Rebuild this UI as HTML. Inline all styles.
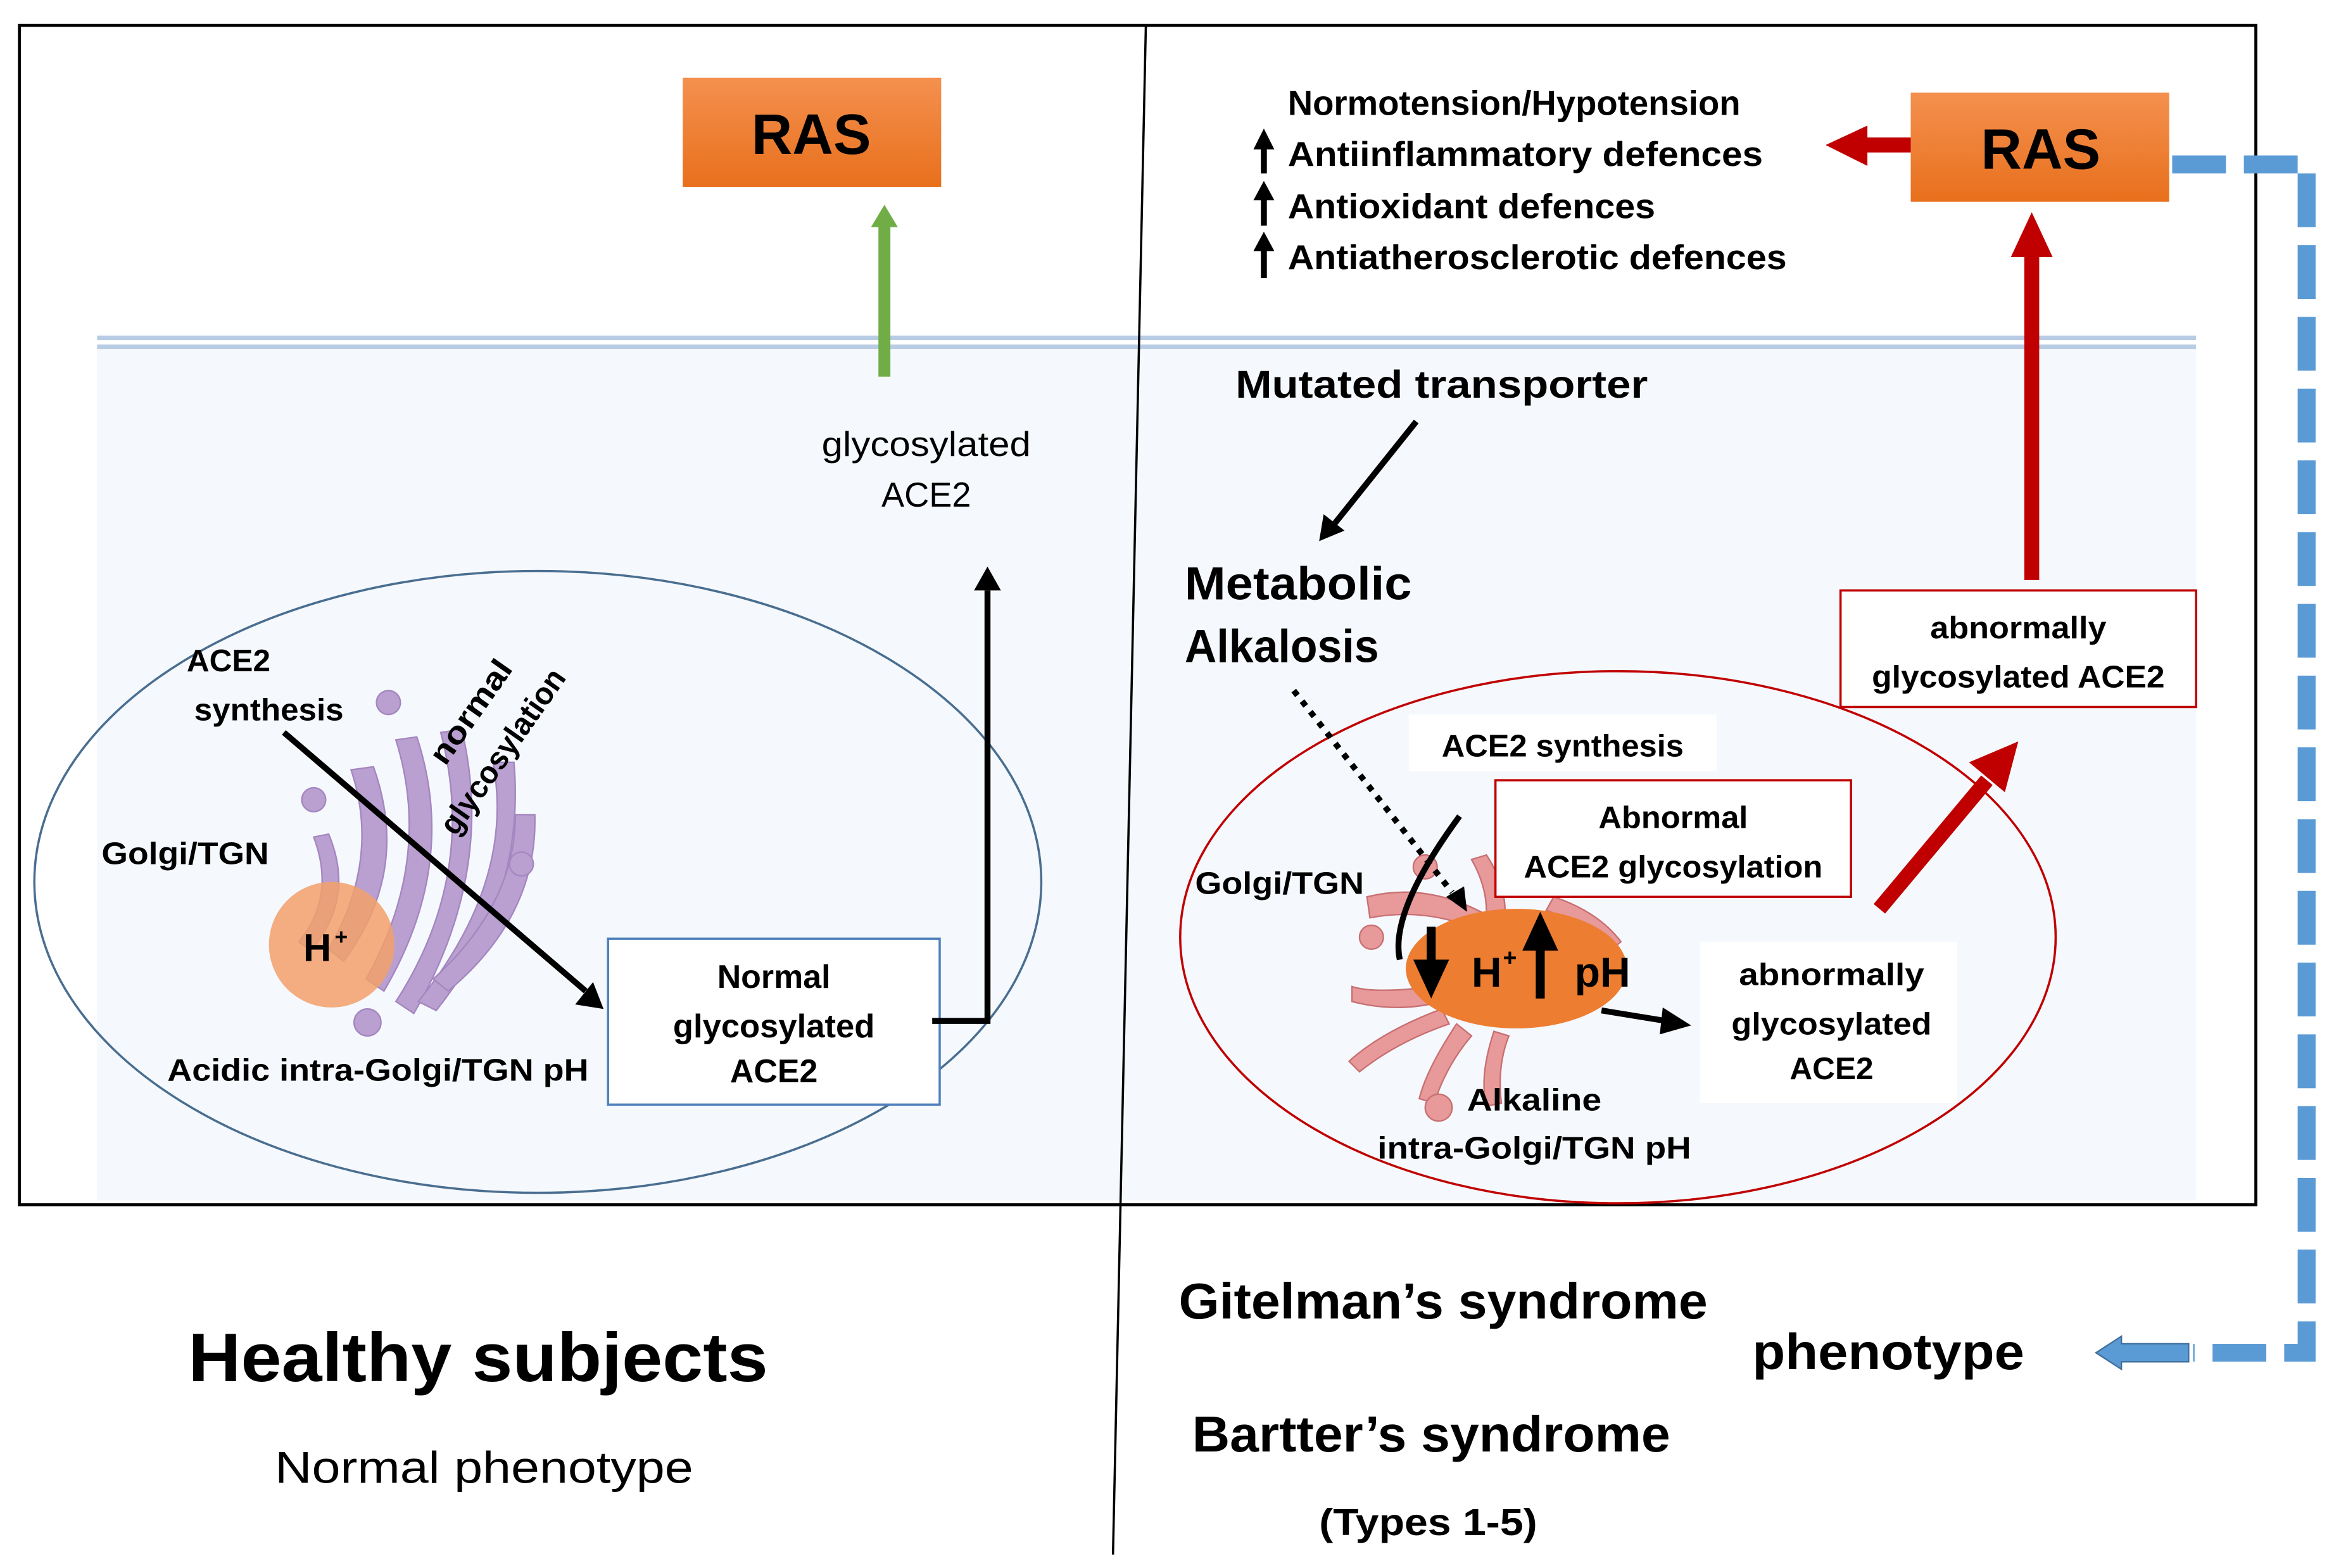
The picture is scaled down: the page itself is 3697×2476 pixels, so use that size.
<!DOCTYPE html>
<html><head><meta charset="utf-8"><style>
html,body{margin:0;padding:0;background:#fff;}
svg{display:block;}
text{font-family:"Liberation Sans",sans-serif;fill:#000;}
.b{font-weight:bold;}
</style></head><body>
<svg width="3697" height="2476" viewBox="0 0 1567 1049" preserveAspectRatio="none" xmlns="http://www.w3.org/2000/svg">
<defs>
<linearGradient id="og" x1="0" y1="0" x2="0" y2="1"><stop offset="0" stop-color="#f4904f"/><stop offset="1" stop-color="#e8701c"/></linearGradient>
</defs>
<rect x="0" y="0" width="1567" height="1049" fill="#fff"/>
<rect x="65" y="233" width="1405" height="570" fill="#f5f9fd"/>
<line x1="65" y1="226" x2="1470" y2="226" stroke="#b8cce4" stroke-width="3"/>
<line x1="65" y1="232" x2="1470" y2="232" stroke="#b8cce4" stroke-width="3"/>
<rect x="13" y="17" width="1497" height="789" fill="none" stroke="#000" stroke-width="2"/>
<line x1="767" y1="17" x2="745" y2="1040" stroke="#000" stroke-width="1.5"/>

<!-- LEFT -->
<rect x="457" y="52" width="173" height="73" fill="url(#og)"/>
<text x="543" y="103" class="b" font-size="38" text-anchor="middle" textLength="80" lengthAdjust="spacingAndGlyphs">RAS</text>
<line x1="592" y1="252" x2="592" y2="150" stroke="#70ad47" stroke-width="8"/>
<path d="M583,152 L592,137 L601,152 z" fill="#70ad47"/>
<text x="620" y="305" font-size="23" text-anchor="middle" textLength="140" lengthAdjust="spacingAndGlyphs">glycosylated</text>
<text x="620" y="339" font-size="23" text-anchor="middle" textLength="60" lengthAdjust="spacingAndGlyphs">ACE2</text>
<ellipse cx="360" cy="590" rx="337" ry="208" fill="none" stroke="#4a6e90" stroke-width="1.5"/>
<g fill="#b9a0d0" stroke="#a486c0" stroke-width="1">
<path d="M235,515 q20,60 -15,120 l10,8 q45,-60 20,-130 z"/>
<path d="M265,495 q25,80 -20,160 l12,8 q50,-85 22,-170 z"/>
<path d="M295,490 q25,95 -30,180 l12,8 q55,-95 32,-190 z"/>
<path d="M330,510 q15,80 -50,160 l12,6 q60,-75 52,-166 z"/>
<path d="M345,545 q0,60 -55,110 l10,8 q60,-50 58,-118 z"/>
<path d="M210,560 q15,40 -10,70 l8,6 q30,-35 12,-78 z"/>
<circle cx="260" cy="470" r="8"/><circle cx="210" cy="535" r="8"/><circle cx="349" cy="578" r="8"/><circle cx="246" cy="684" r="9"/>
</g>
<circle cx="222" cy="632" r="42" fill="#f2a06a" fill-opacity="0.85"/>
<text x="203" y="643" class="b" font-size="26">H</text><text x="224" y="632" class="b" font-size="15">+</text>
<text x="153" y="449" class="b" font-size="21" text-anchor="middle">ACE2</text>
<text x="180" y="482" class="b" font-size="21" text-anchor="middle" textLength="100" lengthAdjust="spacingAndGlyphs">synthesis</text>
<text x="68" y="578" class="b" font-size="21" textLength="112" lengthAdjust="spacingAndGlyphs">Golgi/TGN</text>
<text transform="translate(298,513) rotate(-55)" class="b" font-size="21" textLength="80" lengthAdjust="spacingAndGlyphs">normal</text>
<text transform="translate(305,560) rotate(-55)" class="b" font-size="21" textLength="130" lengthAdjust="spacingAndGlyphs">glycosylation</text>
<line x1="190" y1="490" x2="392" y2="663" stroke="#000" stroke-width="4"/>
<path d="M385,672 L404,675 L397,657 z" fill="#000"/>
<text x="112" y="723" class="b" font-size="21" textLength="282" lengthAdjust="spacingAndGlyphs">Acidic intra-Golgi/TGN pH</text>
<rect x="407" y="628" width="222" height="111" fill="#fff" stroke="#4f81bd" stroke-width="1.5"/>
<text x="518" y="661" class="b" font-size="22" text-anchor="middle">Normal</text>
<text x="518" y="694" class="b" font-size="22" text-anchor="middle" textLength="135" lengthAdjust="spacingAndGlyphs">glycosylated</text>
<text x="518" y="724" class="b" font-size="22" text-anchor="middle">ACE2</text>
<polyline points="624,683 661,683 661,395" fill="none" stroke="#000" stroke-width="4"/>
<path d="M652,395 L661,379 L670,395 z" fill="#000"/>
<text x="320" y="924" class="b" font-size="46" text-anchor="middle" textLength="388" lengthAdjust="spacingAndGlyphs">Healthy subjects</text>
<text x="324" y="992" font-size="30" text-anchor="middle" textLength="280" lengthAdjust="spacingAndGlyphs">Normal phenotype</text>

<!-- RIGHT -->
<rect x="1279" y="62" width="173" height="73" fill="url(#og)"/>
<text x="1366" y="113" class="b" font-size="38" text-anchor="middle" textLength="80" lengthAdjust="spacingAndGlyphs">RAS</text>
<line x1="1279" y1="97" x2="1248" y2="97" stroke="#c00000" stroke-width="10"/>
<path d="M1250,84 L1222,97 L1250,111 z" fill="#c00000"/>
<text x="862" y="77" class="b" font-size="23" textLength="303" lengthAdjust="spacingAndGlyphs">Normotension/Hypotension</text>
<text x="862" y="111" class="b" font-size="23" textLength="318" lengthAdjust="spacingAndGlyphs">Antiinflammatory defences</text>
<text x="862" y="146" class="b" font-size="23" textLength="246" lengthAdjust="spacingAndGlyphs">Antioxidant defences</text>
<text x="862" y="180" class="b" font-size="23" textLength="334" lengthAdjust="spacingAndGlyphs">Antiatherosclerotic defences</text>
<g fill="#000">
<rect x="844" y="98" width="4" height="18"/><path d="M839,100 L846,86 L853,100 z"/>
<rect x="844" y="132" width="4" height="19"/><path d="M839,134 L846,121 L853,134 z"/>
<rect x="844" y="166" width="4" height="20"/><path d="M839,168 L846,155 L853,168 z"/>
</g>
<line x1="1360" y1="388" x2="1360" y2="170" stroke="#c00000" stroke-width="10"/>
<path d="M1346,172 L1360,142 L1374,172 z" fill="#c00000"/>
<polyline points="1454,110 1544,110 1544,905 1468,905" fill="none" stroke="#5b9bd5" stroke-width="12" stroke-dasharray="36,12"/>
<path d="M1465,899 L1420,899 L1420,894 L1403,905 L1420,916 L1420,911 L1465,911 z" fill="#5b9bd5" stroke="#41719c" stroke-width="1"/>
<text x="965" y="266" class="b" font-size="26" text-anchor="middle" textLength="276" lengthAdjust="spacingAndGlyphs">Mutated transporter</text>
<line x1="948" y1="282" x2="892" y2="352" stroke="#000" stroke-width="4"/>
<path d="M883,362 L886,344 L900,355 z" fill="#000"/>
<text x="793" y="401" class="b" font-size="31" textLength="152" lengthAdjust="spacingAndGlyphs">Metabolic</text>
<text x="793" y="443" class="b" font-size="31" textLength="130" lengthAdjust="spacingAndGlyphs">Alkalosis</text>
<ellipse cx="1083" cy="627" rx="293" ry="178" fill="none" stroke="#c00000" stroke-width="1.5"/>
<rect x="1232" y="395" width="238" height="78" fill="#fff" stroke="#c00000" stroke-width="1.5"/>
<text x="1351" y="427" class="b" font-size="21" text-anchor="middle" textLength="118" lengthAdjust="spacingAndGlyphs">abnormally</text>
<text x="1351" y="460" class="b" font-size="21" text-anchor="middle" textLength="196" lengthAdjust="spacingAndGlyphs">glycosylated ACE2</text>
<rect x="943" y="478" width="206" height="38" fill="#fff"/>
<text x="1046" y="506" class="b" font-size="21" text-anchor="middle" textLength="162" lengthAdjust="spacingAndGlyphs">ACE2 synthesis</text>
<g fill="#e8999a" stroke="#c87072" stroke-width="1">
<path d="M915,600 q40,-10 80,12 l-6,10 q-35,-15 -72,-8 z"/>
<path d="M985,575 q20,35 0,70 l10,5 q25,-40 0,-78 z"/>
<path d="M1040,600 q30,10 45,30 l-8,7 q-15,-18 -42,-28 z"/>
<path d="M960,660 q-40,5 -55,0 l0,10 q30,8 60,0 z"/>
<path d="M965,675 q-40,15 -62,35 l7,7 q25,-20 60,-32 z"/>
<path d="M975,685 q-20,30 -25,50 l10,3 q8,-25 25,-45 z"/>
<path d="M1000,690 q-10,30 -5,50 l10,-2 q-3,-25 5,-45 z"/>
<circle cx="954" cy="580" r="8"/><circle cx="918" cy="627" r="8"/><circle cx="963" cy="741" r="9"/>
</g>
<ellipse cx="1015" cy="648" rx="74" ry="40" fill="#ed7d31"/>
<path d="M977,546 Q930,610 937,642" fill="none" stroke="#000" stroke-width="4"/>
<line x1="866" y1="462" x2="972" y2="597" stroke="#000" stroke-width="4" stroke-dasharray="4,5"/>
<path d="M968,600 L982,610 L980,593 z" fill="#000"/>
<rect x="1001" y="522" width="238" height="78" fill="#fff" stroke="#c00000" stroke-width="1.5"/>
<text x="1120" y="554" class="b" font-size="21" text-anchor="middle" textLength="100" lengthAdjust="spacingAndGlyphs">Abnormal</text>
<text x="1120" y="587" class="b" font-size="21" text-anchor="middle" textLength="200" lengthAdjust="spacingAndGlyphs">ACE2 glycosylation</text>
<rect x="955" y="620" width="6" height="24" fill="#000"/><path d="M946,642 L958,668 L970,642 z" fill="#000"/>
<text x="985" y="660" class="b" font-size="28">H</text><text x="1006" y="646" class="b" font-size="16">+</text>
<rect x="1028" y="632" width="6" height="36" fill="#000"/><path d="M1019,636 L1031,610 L1043,636 z" fill="#000"/>
<text x="1054" y="660" class="b" font-size="28">pH</text>
<text x="800" y="598" class="b" font-size="21" textLength="113" lengthAdjust="spacingAndGlyphs">Golgi/TGN</text>
<line x1="1072" y1="676" x2="1115" y2="683" stroke="#000" stroke-width="4"/>
<path d="M1113,674 L1132,686 L1111,692 z" fill="#000"/>
<rect x="1138" y="630" width="172" height="108" fill="#fff"/>
<text x="1226" y="659" class="b" font-size="21" text-anchor="middle" textLength="124" lengthAdjust="spacingAndGlyphs">abnormally</text>
<text x="1226" y="692" class="b" font-size="21" text-anchor="middle" textLength="134" lengthAdjust="spacingAndGlyphs">glycosylated</text>
<text x="1226" y="722" class="b" font-size="21" text-anchor="middle">ACE2</text>
<line x1="1258" y1="608" x2="1330" y2="522" stroke="#c00000" stroke-width="10"/>
<path d="M1318,510 L1351,496 L1342,530 z" fill="#c00000"/>
<text x="1027" y="743" class="b" font-size="21" text-anchor="middle" textLength="90" lengthAdjust="spacingAndGlyphs">Alkaline</text>
<text x="1027" y="775" class="b" font-size="21" text-anchor="middle" textLength="210" lengthAdjust="spacingAndGlyphs">intra-Golgi/TGN pH</text>
<text x="966" y="882" class="b" font-size="34" text-anchor="middle" textLength="354" lengthAdjust="spacingAndGlyphs">Gitelman’s syndrome</text>
<text x="1264" y="916" class="b" font-size="34" text-anchor="middle" textLength="182" lengthAdjust="spacingAndGlyphs">phenotype</text>
<text x="958" y="971" class="b" font-size="34" text-anchor="middle" textLength="320" lengthAdjust="spacingAndGlyphs">Bartter’s syndrome</text>
<text x="956" y="1027" class="b" font-size="25" text-anchor="middle" textLength="146" lengthAdjust="spacingAndGlyphs">(Types 1-5)</text>
</svg>
</body></html>
